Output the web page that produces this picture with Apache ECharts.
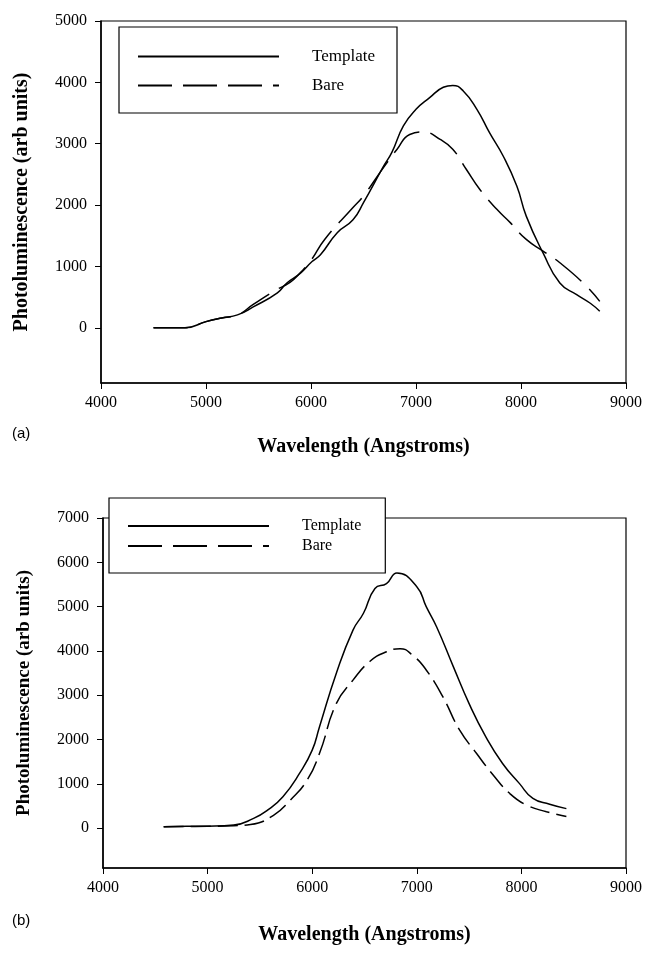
<!DOCTYPE html>
<html>
<head>
<meta charset="utf-8">
<script src="https://cdn.jsdelivr.net/npm/echarts@6/dist/echarts.min.js"></script>
<style>
  html, body { margin: 0; padding: 0; background: #fff; }
  #chart { width: 645px; height: 960px; }
</style>
</head>
<body>
<div id="chart"></div>
<script>
// 数据：两个面板 (a) (b)，各两条曲线
var xTicks = [4000, 5000, 6000, 7000, 8000, 9000];
var yTicksA = [0, 1000, 2000, 3000, 4000, 5000];
var yTicksB = [0, 1000, 2000, 3000, 4000, 5000, 6000, 7000];

var aTemplateX = [4500, 4800, 5000, 5150, 5300, 5450, 5680, 5770, 5900, 6010, 6090, 6250, 6400, 6500, 6690, 6770, 6880, 7000, 7130, 7260, 7350, 7450, 7580, 7700, 7830, 7960, 8050, 8210, 8370, 8530, 8660, 8750];
var aTemplateY = [0, 0, 100, 160, 210, 340, 570, 730, 890, 1080, 1190, 1550, 1760, 2040, 2630, 2860, 3290, 3560, 3750, 3920, 3950, 3860, 3560, 3180, 2800, 2310, 1820, 1220, 730, 540, 400, 270];
var aBareX = [4500, 4800, 5000, 5150, 5300, 5450, 5650, 5800, 5900, 6000, 6130, 6400, 6500, 6690, 6820, 6940, 7070, 7230, 7350, 7480, 7610, 7770, 7900, 8050, 8210, 8370, 8610, 8750];
var aBareY = [0, 0, 100, 160, 210, 380, 600, 740, 900, 1100, 1440, 1960, 2150, 2610, 2910, 3150, 3190, 3070, 2910, 2580, 2250, 1930, 1710, 1440, 1250, 1060, 700, 430];

var bTemplateX = [4580, 4800, 5000, 5250, 5440, 5570, 5720, 5880, 6000, 6070, 6230, 6390, 6490, 6600, 6710, 6810, 7000, 7090, 7190, 7350, 7500, 7660, 7820, 7980, 8110, 8270, 8430];
var bTemplateY = [30, 40, 45, 70, 220, 400, 710, 1240, 1760, 2290, 3490, 4470, 4850, 5410, 5520, 5760, 5450, 5000, 4540, 3640, 2810, 2060, 1460, 1010, 670, 540, 440];
var bBareX = [4580, 4800, 5000, 5250, 5410, 5630, 5790, 5950, 6070, 6230, 6390, 6550, 6710, 6840, 6960, 7090, 7250, 7410, 7570, 7730, 7890, 8050, 8240, 8430];
var bBareY = [30, 35, 40, 55, 80, 290, 630, 1080, 1690, 2810, 3340, 3760, 3980, 4050, 3900, 3570, 2960, 2210, 1690, 1200, 780, 520, 370, 260];

function pairs(xs, ys) {
    return xs.map(function (x, i) { return [x, ys[i]]; });
}

var serif = '"Liberation Serif", "Times New Roman", serif';

function xAxisFor(gridIndex, gap) {
    return {
        type: 'value', gridIndex: gridIndex, min: 4000, max: 9000, interval: 1000,
        name: 'Wavelength (Angstroms)', nameLocation: 'middle', nameGap: gap,
        nameTextStyle: { fontFamily: serif, fontWeight: 'bold', fontSize: 20, color: '#000' },
        axisLine: { onZero: false, lineStyle: { color: '#000', width: 1.5 } },
        axisTick: { length: 6, customValues: xTicks, lineStyle: { color: '#000' } },
        axisLabel: { margin: 12, customValues: xTicks, formatter: function (v) { return String(v); },
                     fontFamily: serif, fontSize: 16, color: '#000' },
        splitLine: { show: false }
    };
}

function yAxisFor(gridIndex, max, ticks) {
    return {
        type: 'value', gridIndex: gridIndex, min: -900, max: max,
        name: 'Photoluminescence (arb units)', nameLocation: 'middle', nameGap: 69,
        nameTextStyle: { fontFamily: serif, fontWeight: 'bold', fontSize: gridIndex === 0 ? 20 : 19, color: '#000' },
        axisLine: { onZero: false, lineStyle: { color: '#000', width: 1.5 } },
        axisTick: { length: 6, customValues: ticks, lineStyle: { color: '#000' } },
        axisLabel: { margin: 14, customValues: ticks, formatter: function (v) { return String(v); },
                     fontFamily: serif, fontSize: 16, color: '#000' },
        splitLine: { show: false }
    };
}

function legendFor(left, top, gap, pad, fontSize) {
    return {
        orient: 'vertical', left: left, top: top,
        itemWidth: 141, itemHeight: 14, itemGap: gap,
        padding: pad,
        backgroundColor: '#fff', borderColor: '#000', borderWidth: 1.2, borderRadius: 0,
        itemStyle: { opacity: 0 },
        textStyle: { fontFamily: serif, fontSize: fontSize, color: '#000', padding: [0, 0, 0, 28] },
        data: ['Template', 'Bare'],
        selectedMode: false,
        z: 10
    };
}

var myChart = echarts.init(document.getElementById('chart'));

var option = {
    animation: false,
    backgroundColor: '#fff',
    grid: [
        { left: 101, top: 21, width: 525, height: 362, show: true, borderColor: '#000', borderWidth: 1.2 },
        { left: 103, top: 518, width: 524, height: 350, show: true, borderColor: '#000', borderWidth: 1.2 }
    ],
    xAxis: [xAxisFor(0, 54), xAxisFor(1, 57)],
    yAxis: [yAxisFor(0, 5000, yTicksA), yAxisFor(1, 7000, yTicksB)],
    legend: [
        legendFor(119, 27, 12, [21, 22, 19, 18], 17),
        legendFor(109, 498, 4, [20, 24, 19, 18], 16)
    ],
    graphic: [
        { type: 'text', left: 12, top: 426, style: { text: '(a)', font: '15px "Liberation Sans", Arial, sans-serif', fill: '#000' } },
        { type: 'text', left: 12, top: 913, style: { text: '(b)', font: '15px "Liberation Sans", Arial, sans-serif', fill: '#000' } }
    ],
    series: [
        { name: 'Template', type: 'line', xAxisIndex: 0, yAxisIndex: 0, smooth: true, symbol: 'none',
          lineStyle: { color: '#000', width: 1.5 }, itemStyle: { color: '#000' }, data: pairs(aTemplateX, aTemplateY) },
        { name: 'Bare', type: 'line', xAxisIndex: 0, yAxisIndex: 0, smooth: true, symbol: 'none',
          lineStyle: { color: '#000', width: 1.5, type: [34, 11] }, itemStyle: { color: '#000' }, data: pairs(aBareX, aBareY) },
        { name: 'Template', type: 'line', xAxisIndex: 1, yAxisIndex: 1, smooth: true, symbol: 'none',
          lineStyle: { color: '#000', width: 1.5 }, itemStyle: { color: '#000' }, data: pairs(bTemplateX, bTemplateY) },
        { name: 'Bare', type: 'line', xAxisIndex: 1, yAxisIndex: 1, smooth: true, symbol: 'none',
          lineStyle: { color: '#000', width: 1.5, type: [20, 7] }, itemStyle: { color: '#000' }, data: pairs(bBareX, bBareY) }
    ]
};

myChart.setOption(option);
</script>
</body>
</html>
